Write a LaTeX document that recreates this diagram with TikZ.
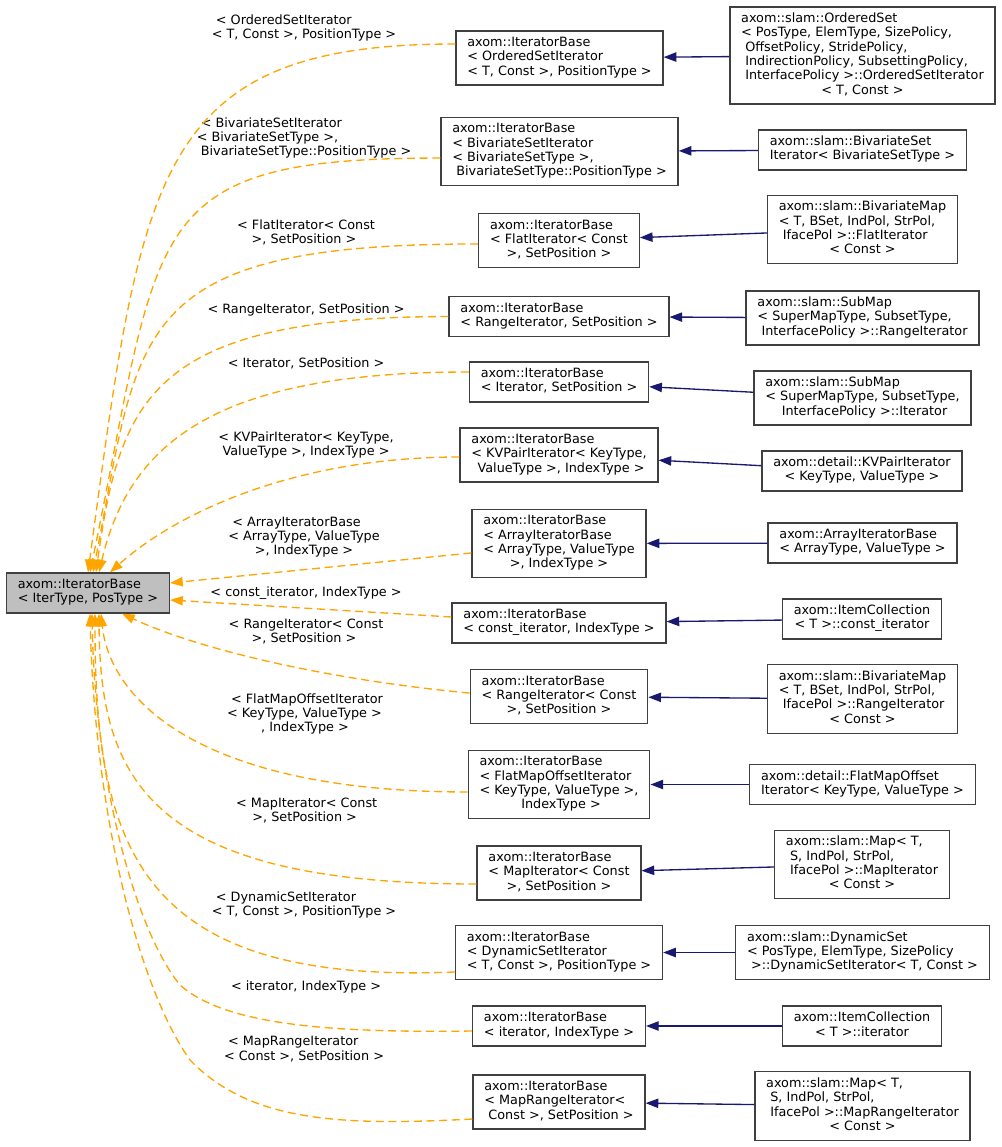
\documentclass[tikz,border=0pt]{standalone}
\usepackage{fontspec}
\setmainfont{DejaVu Sans}
\usetikzlibrary{arrows.meta}
\definecolor{edgeorange}{HTML}{FFA500}
\definecolor{edgenavy}{HTML}{191970}
\definecolor{boxline}{HTML}{404040}
\definecolor{rootfill}{HTML}{BFBFBF}
\newcommand{\cltext}[1]{\begin{tabular}{@{}l@{}}#1\end{tabular}}
\newcommand{\cllast}[1]{\multicolumn{1}{@{}c@{}}{#1}}

\begin{document}
\begin{tikzpicture}[x=0.75pt,y=-0.75pt,
  cls/.style={draw=boxline,line width=1pt,fill=white,inner xsep=8.5pt,inner ysep=4.3pt,font=\fontsize{9.6}{10.7}\selectfont},
  root/.style={cls,fill=rootfill},
  lab/.style={inner sep=0pt,font=\fontsize{9.6}{10.7}\selectfont},
  inh/.style={draw=edgenavy,line width=1pt,-{Triangle[length=9.5pt,width=7pt]}},
  tmpl/.style={draw=edgeorange,line width=1pt,dash pattern=on 6pt off 3.5pt,-{Triangle[length=9.5pt,width=7pt]}}]
\useasboundingbox (0,0) rectangle (1001,1147);

\node [root] (base) at (88,593) {\cltext{axom::IteratorBase\\\cllast{< IterType, PosType >}}};

\node [cls] (m1) at (559.5,58) {\cltext{axom::IteratorBase\\< OrderedSetIterator\\\cllast{< T, Const >, PositionType >}}};
\node [cls] (m2) at (559.5,151.5) {\cltext{axom::IteratorBase\\< BivariateSetIterator\\< BivariateSetType >,\\\cllast{\ BivariateSetType::PositionType >}}};
\node [cls] (m3) at (559,240.5) {\cltext{axom::IteratorBase\\< FlatIterator< Const\\\cllast{>, SetPosition >}}};
\node [cls] (m4) at (559,316.5) {\cltext{axom::IteratorBase\\\cllast{< RangeIterator, SetPosition >}}};
\node [cls] (m5) at (559,382) {\cltext{axom::IteratorBase\\\cllast{< Iterator, SetPosition >}}};
\node [cls] (m6) at (559,455) {\cltext{axom::IteratorBase\\< KVPairIterator< KeyType,\\\cllast{\ ValueType >, IndexType >}}};
\node [cls] (m7) at (559,543.5) {\cltext{axom::IteratorBase\\< ArrayIteratorBase\\< ArrayType, ValueType\\\cllast{>, IndexType >}}};
\node [cls] (m8) at (559,623) {\cltext{axom::IteratorBase\\\cllast{< const\_iterator, IndexType >}}};
\node [cls] (m9) at (559,696.5) {\cltext{axom::IteratorBase\\< RangeIterator< Const\\\cllast{>, SetPosition >}}};
\node [cls] (m10) at (559,784.5) {\cltext{axom::IteratorBase\\< FlatMapOffsetIterator\\< KeyType, ValueType >,\\\cllast{\ IndexType >}}};
\node [cls] (m11) at (559,873) {\cltext{axom::IteratorBase\\< MapIterator< Const\\\cllast{>, SetPosition >}}};
\node [cls] (m12) at (559,952.5) {\cltext{axom::IteratorBase\\< DynamicSetIterator\\\cllast{< T, Const >, PositionType >}}};
\node [cls] (m13) at (559,1026) {\cltext{axom::IteratorBase\\\cllast{< iterator, IndexType >}}};
\node [cls] (m14) at (559,1102) {\cltext{axom::IteratorBase\\< MapRangeIterator<\\\cllast{\ Const >, SetPosition >}}};

\node [cls] (r1) at (862.5,55.5) {\cltext{axom::slam::OrderedSet\\< PosType, ElemType, SizePolicy,\\\ OffsetPolicy, StridePolicy,\\\ IndirectionPolicy, SubsettingPolicy,\\\ InterfacePolicy >::OrderedSetIterator\\\cllast{< T, Const >}}};
\node [cls] (r2) at (862.5,150) {\cltext{axom::slam::BivariateSet\\\cllast{Iterator< BivariateSetType >}}};
\node [cls] (r3) at (862.5,229.5) {\cltext{axom::slam::BivariateMap\\< T, BSet, IndPol, StrPol,\\\ IfacePol >::FlatIterator\\\cllast{< Const >}}};
\node [cls] (r4) at (862.5,318) {\cltext{axom::slam::SubMap\\< SuperMapType, SubsetType,\\\cllast{\ InterfacePolicy >::RangeIterator}}};
\node [cls] (r5) at (862.5,398) {\cltext{axom::slam::SubMap\\< SuperMapType, SubsetType,\\\cllast{\ InterfacePolicy >::Iterator}}};
\node [cls] (r6) at (862,471) {\cltext{axom::detail::KVPairIterator\\\cllast{< KeyType, ValueType >}}};
\node [cls] (r7) at (862.5,543) {\cltext{axom::ArrayIteratorBase\\\cllast{< ArrayType, ValueType >}}};
\node [cls] (r8) at (862,619) {\cltext{axom::ItemCollection\\\cllast{< T >::const\_iterator}}};
\node [cls] (r9) at (862.5,699) {\cltext{axom::slam::BivariateMap\\< T, BSet, IndPol, StrPol,\\\ IfacePol >::RangeIterator\\\cllast{< Const >}}};
\node [cls] (r10) at (862.5,784.5) {\cltext{axom::detail::FlatMapOffset\\\cllast{Iterator< KeyType, ValueType >}}};
\node [cls] (r11) at (862,864.5) {\cltext{axom::slam::Map< T,\\\ S, IndPol, StrPol,\\\ IfacePol >::MapIterator\\\cllast{< Const >}}};
\node [cls] (r12) at (862.5,952.5) {\cltext{axom::slam::DynamicSet\\< PosType, ElemType, SizePolicy\\\cllast{\ >::DynamicSetIterator< T, Const >}}};
\node [cls] (r13) at (862,1026) {\cltext{axom::ItemCollection\\\cllast{< T >::iterator}}};
\node [cls] (r14) at (862.5,1106) {\cltext{axom::slam::Map< T,\\\ S, IndPol, StrPol,\\\ IfacePol >::MapRangeIterator\\\cllast{< Const >}}};

\node [lab] (e1) at (304,29) {\cltext{\ < OrderedSetIterator\\\cllast{< T, Const >, PositionType >}}};
\node [lab] (e2) at (304,138.8) {\cltext{\ < BivariateSetIterator\\< BivariateSetType >,\\\cllast{\ BivariateSetType::PositionType >}}};
\node [lab] (e3) at (304,234) {\cltext{\ < FlatIterator< Const\\\cllast{>, SetPosition >}}};
\node [lab] (e4) at (304,310.3) {\cltext{\ < RangeIterator, SetPosition >}};
\node [lab] (e5) at (304,364.3) {\cltext{\ < Iterator, SetPosition >}};
\node [lab] (e6) at (304,446) {\cltext{\ < KVPairIterator< KeyType,\\\cllast{\ ValueType >, IndexType >}}};
\node [lab] (e7) at (304,537.5) {\cltext{\ < ArrayIteratorBase\\< ArrayType, ValueType\\\cllast{>, IndexType >}}};
\node [lab] (e8) at (304,593.7) {\cltext{\ < const\_iterator, IndexType >}};
\node [lab] (e9) at (304,633) {\cltext{\ < RangeIterator< Const\\\cllast{>, SetPosition >}}};
\node [lab] (e10) at (305,714.7) {\cltext{\ < FlatMapOffsetIterator\\< KeyType, ValueType >\\\cllast{, IndexType >}}};
\node [lab] (e11) at (304.7,811.7) {\cltext{\ < MapIterator< Const\\\cllast{>, SetPosition >}}};
\node [lab] (e12) at (304,906) {\cltext{\ < DynamicSetIterator\\\cllast{< T, Const >, PositionType >}}};
\node [lab] (e13) at (304,988) {\cltext{\ < iterator, IndexType >}};
\node [lab] (e14) at (304,1050) {\cltext{\ < MapRangeIterator\\\cllast{< Const >, SetPosition >}}};

\draw [inh] (r1) -- (m1);
\draw [inh] (r2) -- (m2);
\draw [inh] (r3) -- (m3);
\draw [inh] (r4) -- (m4);
\draw [inh] (r5) -- (m5);
\draw [inh] (r6) -- (m6);
\draw [inh] (r7) -- (m7);
\draw [inh] (r8) -- (m8);
\draw [inh] (r9) -- (m9);
\draw [inh] (r10) -- (m10);
\draw [inh] (r11) -- (m11);
\draw [inh] (r12) -- (m12);
\draw [inh] (r13) -- (m13);
\draw [inh] (r14) -- (m14);

\draw [tmpl] ([yshift=10.5pt]m1.west) .. controls (154,44) and (142,173) .. (base.north);
\draw [tmpl] ([yshift=-4.9pt]m2.west) .. controls (139,158) and (162,223) .. ([xshift=1.5pt]base.north);
\draw [tmpl] ([yshift=-2.6pt]m3.west) .. controls (127,244) and (140,330) .. ([xshift=3.75pt]base.north);
\draw [tmpl] (m4.west) .. controls (150,317) and (120,400) .. ([xshift=6pt]base.north);
\draw [tmpl] ([yshift=7.5pt]m5.west) .. controls (220,372) and (130,440) .. ([xshift=8.25pt]base.north);
\draw [tmpl] ([yshift=-1.5pt]m6.west) .. controls (300,457) and (180,510) .. ([xshift=16.5pt]base.north);
\draw [tmpl] ([yshift=-7.1pt]m7.west) -- ([yshift=7.5pt]base.east);
\draw [tmpl] ([yshift=4.5pt]m8.west) -- ([yshift=-5.25pt]base.east);
\draw [tmpl] ([yshift=2.6pt]m9.west) .. controls (330,680) and (200,650) .. ([xshift=25.5pt]base.south);
\draw [tmpl] ([yshift=-5.6pt]m10.west) .. controls (200,792) and (110,700) .. ([xshift=9.75pt]base.south);
\draw [tmpl] ([yshift=-8.25pt]m11.west) .. controls (150,884) and (100,780) .. ([xshift=8.25pt]base.south);
\draw [tmpl] ([yshift=-14.6pt]m12.west) .. controls (140,985) and (95,850) .. ([xshift=5.25pt]base.south);
\draw [tmpl] ([yshift=-3.75pt]m13.west) .. controls (330,1033) and (225,1025) .. (180,985) .. controls (135,930) and (95,780) .. ([xshift=3pt]base.south);
\draw [tmpl] ([yshift=-12.75pt]m14.west) .. controls (340,1126) and (250,1122) .. (190,1060) .. controls (140,990) and (95,820) .. ([xshift=1.5pt]base.south);

\end{tikzpicture}
\end{document}
